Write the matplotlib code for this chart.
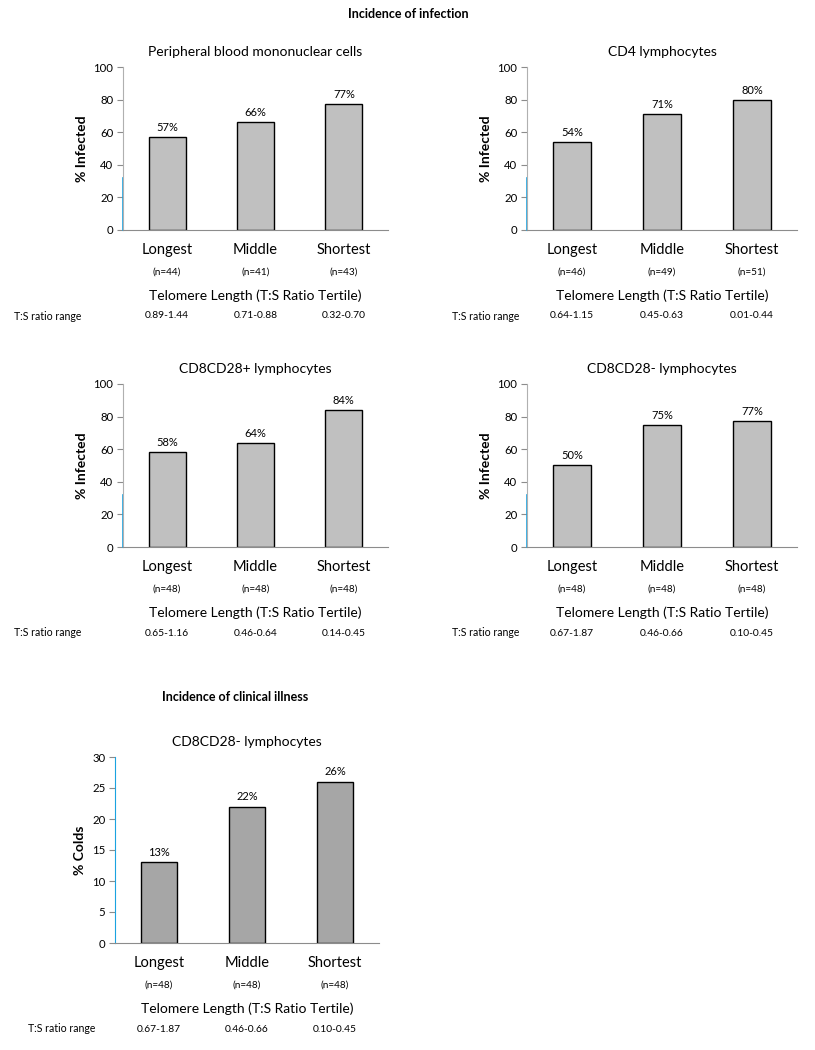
import matplotlib
matplotlib.use("Agg")
from matplotlib import pyplot as plt
from matplotlib import transforms

plt.rcParams['font.family'] = ['Lato', 'DejaVu Sans']

W, H = 815, 1050

tertiles = ['Longest', 'Middle', 'Shortest']

pbmc_vals = [57, 66, 77]
pbmc_n = [44, 41, 43]
pbmc_range = ['0.89-1.44', '0.71-0.88', '0.32-0.70']

cd4_vals = [54, 71, 80]
cd4_n = [46, 49, 51]
cd4_range = ['0.64-1.15', '0.45-0.63', '0.01-0.44']

cd28p_vals = [58, 64, 84]
cd28p_n = [48, 48, 48]
cd28p_range = ['0.65-1.16', '0.46-0.64', '0.14-0.45']

cd28m_vals = [50, 75, 77]
cd28m_n = [48, 48, 48]
cd28m_range = ['0.67-1.87', '0.46-0.66', '0.10-0.45']

colds_vals = [13, 22, 26]
colds_n = [48, 48, 48]
colds_range = ['0.67-1.87', '0.46-0.66', '0.10-0.45']

BLUE = '#1aa3e0'
AXGRAY = '#8c8c8c'


def make_panel(fig, box, title, vals, ns, ranges, ylabel, ymax, ystep,
               barcolor, lab_x, full_blue=False):
    x0, x1, ytop, ybot = box
    ax = fig.add_axes([x0 / W, 1 - ybot / H, (x1 - x0) / W, (ybot - ytop) / H])
    pos = list(range(len(vals)))
    ax.bar(pos, vals, width=0.42, color=barcolor, edgecolor='black', linewidth=1.0)
    ax.set_xlim(-0.5, 2.5)
    ax.set_ylim(0, ymax)
    ax.set_yticks(range(0, ymax + 1, ystep))
    ax.tick_params(axis='y', labelsize=8.2, length=4, color=AXGRAY, pad=3)
    ax.tick_params(axis='x', length=0, labelbottom=False)
    for s in ['top', 'right']:
        ax.spines[s].set_visible(False)
    ax.spines['bottom'].set_color(AXGRAY)
    ax.spines['left'].set_color(BLUE if full_blue else '#b0b0b0')
    if not full_blue:
        # only the lower part of the y axis line is blue in the upper panels
        ax.axvline(-0.5, 0, 32 / ymax, color=BLUE, linewidth=1.2, clip_on=False)
    ax.set_title(title, fontsize=10, pad=8)
    ax.set_ylabel(ylabel, fontsize=10, fontweight='bold', labelpad=4)
    for p, v in zip(pos, vals):
        ax.text(p, v + ymax * 0.025, '%d%%' % v, ha='center', va='bottom', fontsize=8)

    tr = transforms.blended_transform_factory(ax.transData, fig.transFigure)
    for p, n, r in zip(pos, ns, ranges):
        fig.text(p, 1 - (ybot + 20) / H, tertiles[p], transform=tr,
                 ha='center', va='center', fontsize=10.5)
        fig.text(p, 1 - (ybot + 42) / H, '(n=%d)' % n, transform=tr,
                 ha='center', va='center', fontsize=7.2)
        fig.text(p, 1 - (ybot + 86) / H, r, transform=tr,
                 ha='center', va='center', fontsize=7.4)
    fig.text(1, 1 - (ybot + 66) / H, 'Telomere Length (T:S Ratio Tertile)', transform=tr,
             ha='center', va='center', fontsize=10)
    fig.text(lab_x / W, 1 - (ybot + 86) / H, 'T:S ratio range',
             ha='left', va='center', fontsize=7.6)
    return ax


fig = plt.figure(figsize=(W / 100, H / 100), dpi=100)

fig.text(408 / W, 1 - 14 / H, 'Incidence of infection', ha='center', va='center',
         fontsize=9, fontweight='bold')
fig.text(235 / W, 1 - 697 / H, 'Incidence of clinical illness', ha='center', va='center',
         fontsize=9, fontweight='bold')

make_panel(fig, (123, 388, 67, 230), 'Peripheral blood mononuclear cells',
           pbmc_vals, pbmc_n, pbmc_range, '% Infected', 100, 20, '#c0c0c0', 14)
make_panel(fig, (527, 797, 67, 230), 'CD4 lymphocytes',
           cd4_vals, cd4_n, cd4_range, '% Infected', 100, 20, '#c0c0c0', 452)
make_panel(fig, (123, 388, 384, 547), 'CD8CD28+ lymphocytes',
           cd28p_vals, cd28p_n, cd28p_range, '% Infected', 100, 20, '#c0c0c0', 14)
make_panel(fig, (527, 797, 384, 547), 'CD8CD28- lymphocytes',
           cd28m_vals, cd28m_n, cd28m_range, '% Infected', 100, 20, '#c0c0c0', 452)
make_panel(fig, (115, 379, 757, 943), 'CD8CD28- lymphocytes',
           colds_vals, colds_n, colds_range, '% Colds', 30, 5, '#a6a6a6', 28,
           full_blue=True)

fig.savefig('out.png', dpi=100)
